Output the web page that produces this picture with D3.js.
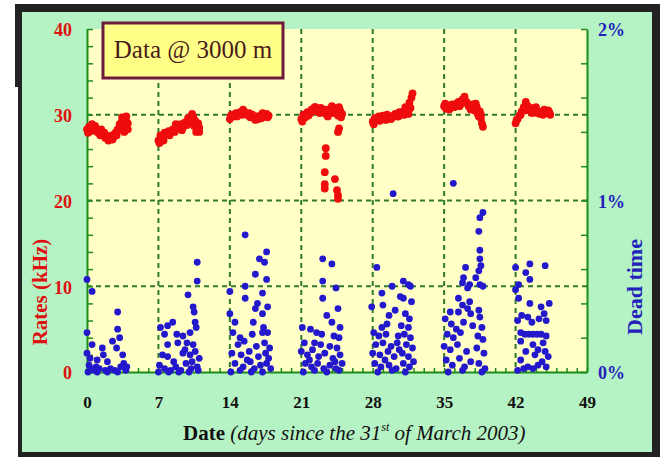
<!DOCTYPE html>
<head>
  <meta charset="utf-8">
  <script src="https://d3js.org/d3.v7.min.js"></script>
  <style>
    body { margin:0; background:#fff; }
    svg { display:block; }
    text { font-family: "Liberation Serif", "Times New Roman", serif; }
  </style>
</head>

<body>
	<script type='text/javascript'>
		// rates in kHz, one array per week: [day, rate]
		var ratesWeek1 = [[0,28.3],[0.2,28.6],[0.4,28.1],[0.6,28.4],[0.8,28.7],[1.0,28.0],[1.2,27.8],[1.4,28.3],[1.6,27.6],[1.8,27.3],[2.0,27.5],[2.2,27.2],[2.4,27.6],[2.6,27.4],[2.8,27.9],[3.0,28.3],[3.2,28.9],[3.3,28.5],[3.4,29.2],[3.5,28.2],[3.6,29.5],[3.7,28.8],[3.8,29.3],[3.9,28.4],[4.0,29.0],
			[0.1,27.9],[0.5,28.9],[0.9,28.2],[1.3,27.6],[1.7,27.9],[2.1,27.0],[2.5,27.1],[2.9,27.6],[3.45,29.7],[3.65,28.0],[3.85,29.8],[4.0,28.3]];
		var ratesWeek2 = [[7.0,27.0],[7.2,27.6],[7.4,27.3],[7.6,27.9],[7.8,27.7],[8.0,28.1],[8.2,27.9],[8.4,28.3],[8.6,28.0],[8.8,28.6],[9.0,28.4],[9.2,28.9],[9.4,28.5],[9.6,29.1],[9.8,28.8],[10.0,29.4],[10.2,29.0],[10.4,29.8],[10.5,28.7],[10.6,29.3],[10.8,28.3],[10.9,29.0],[11.0,28.5],
			[7.1,26.7],[7.5,27.0],[8.1,27.6],[8.7,28.9],[9.3,28.2],[9.9,29.6],[10.3,30.1],[10.7,28.0],[11.0,28.0]];
		var ratesWeek3 = [[14.0,29.5],[14.2,30.0],[14.4,29.8],[14.6,30.2],[14.8,30.1],[15.0,30.3],[15.2,30.0],[15.4,30.4],[15.6,30.1],[15.8,29.9],[16.0,29.7],[16.2,30.0],[16.4,29.6],[16.6,29.8],[16.8,29.5],[17.0,29.9],[17.2,30.2],[17.4,29.8],[17.6,30.1],[17.8,29.9],
			[14.1,29.9],[14.7,29.8],[15.3,30.6],[15.9,30.2],[16.5,29.4],[17.1,29.6],[17.7,29.7]];
		var ratesWeek4 = [[21.0,29.5],[21.2,30.0],[21.4,29.7],[21.6,30.3],[21.8,30.1],[22.0,30.6],[22.2,30.4],[22.4,30.9],[22.6,30.5],[22.8,30.2],[23.0,30.7],[23.2,30.4],[23.4,30.1],[23.6,29.8],[23.8,30.4],[24.0,31.0],[24.2,30.8],[24.4,30.3],[24.6,29.9],[24.8,30.5],[25.0,30.1],
			[21.1,29.2],[21.7,29.9],[22.3,30.9],[22.9,30.8],[23.5,30.6],[24.1,30.2],[24.7,30.9],[24.9,29.7],
			[24.6,28.0],[24.7,28.4],[23.4,26.1],[23.4,25.2],[23.3,23.3],[23.3,21.9],[23.3,21.4],[24.3,22.5],[24.5,21.2],[24.6,20.6],[24.6,20.2]];
		var ratesWeek5 = [[28.0,29.2],[28.2,29.6],[28.4,29.4],[28.6,29.8],[28.8,29.5],[29.0,29.9],[29.2,29.6],[29.4,30.0],[29.6,29.7],[29.8,29.5],[30.0,29.9],[30.2,30.1],[30.4,29.8],[30.6,30.3],[30.8,30.0],[31.0,30.4],[31.2,30.9],[31.4,30.5],[31.6,31.4],[31.8,32.0],[31.9,32.5],
			[28.1,28.9],[28.7,29.3],[29.3,29.4],[29.9,29.7],[30.5,29.8],[31.1,30.0],[31.5,30.1],[31.7,30.8]];
		var ratesWeek6 = [[35.0,31.0],[35.2,30.7],[35.4,31.1],[35.6,30.8],[35.8,31.2],[36.0,30.9],[36.2,31.3],[36.4,31.5],[36.6,31.2],[36.8,31.8],[37.0,32.1],[37.2,31.5],[37.4,31.0],[37.6,30.6],[37.8,31.2],[38.0,30.5],[38.2,30.9],[38.3,30.1],[38.5,30.4],[38.6,29.6],[38.7,29.0],[38.8,28.6],[38.6,30.0],
			[35.1,31.3],[35.5,30.6],[35.9,30.9],[36.5,31.0],[37.1,31.4],[37.7,30.9],[38.1,31.3],[38.4,29.8]];
		var ratesWeek7 = [[42.0,29.0],[42.2,29.5],[42.4,29.9],[42.6,30.4],[42.8,30.9],[43.0,31.5],[43.2,31.0],[43.4,30.5],[43.6,30.2],[43.8,30.7],[44.0,30.9],[44.2,30.4],[44.4,30.1],[44.6,30.3],[44.8,30.6],[45.0,30.2],[45.2,30.5],[45.4,30.0],
			[42.1,29.4],[42.5,30.0],[42.9,30.5],[43.5,30.8],[44.1,30.2],[44.7,30.0],[45.3,30.3]];

		// dead time in %, one array per week: [day, percent]
		var deadWeek1 = [[0.0,0.54],[0.5,0.47],[3.0,0.35],[3.0,0.25],[0.0,0.23],[2.5,0.18],[3.2,0.20],[0.5,0.16],[1.5,0.14],[1.6,0.10],[2.9,0.14],[0.0,0.11],[3.5,0.10],[1.0,0.07],[2.0,0.06],[0.2,0.04],[0.4,0.02],[0.7,0.01],[1.2,0.02],[1.8,0.01],[2.3,0.02],[2.7,0.01],[3.3,0.03],[3.8,0.01],[0.1,0.0],[1.0,0.0],[2.0,0.0],[3.0,0.0],[3.6,0.05],[0.3,0.08],[3.9,0.03],[0.9,0.03]];
		var deadWeek2 = [[10.8,0.64],[10.8,0.53],[9.9,0.45],[10.4,0.38],[10.5,0.35],[7.2,0.26],[7.9,0.27],[8.4,0.29],[10.6,0.29],[10.7,0.26],[7.6,0.22],[8.8,0.22],[9.4,0.21],[10.1,0.23],[7.9,0.16],[8.9,0.17],[9.8,0.17],[10.4,0.16],[7.4,0.10],[7.9,0.09],[9.4,0.11],[10.1,0.10],[10.6,0.12],[7.1,0.04],[7.6,0.02],[8.2,0.01],[8.7,0.03],[9.2,0.01],[9.7,0.05],[10.2,0.02],[10.8,0.03],[11.0,0.08],[7.0,0.0],[8.0,0.0],[9.0,0.0],[10.0,0.0],[10.9,0.01],[8.5,0.06],[9.6,0.13],[10.3,0.06]];
		var deadWeek3 = [[15.5,0.80],[17.6,0.70],[16.9,0.66],[17.4,0.64],[16.5,0.57],[15.5,0.50],[17.2,0.46],[17.6,0.54],[14.0,0.47],[15.5,0.43],[16.7,0.40],[17.7,0.38],[16.5,0.37],[17.2,0.34],[14.0,0.34],[14.5,0.29],[16.3,0.29],[17.3,0.26],[15.0,0.20],[16.2,0.22],[17.2,0.23],[17.7,0.23],[14.3,0.23],[14.8,0.16],[15.4,0.18],[16.6,0.15],[17.4,0.17],[17.9,0.14],[14.2,0.11],[15.1,0.10],[15.9,0.12],[16.8,0.09],[17.5,0.11],[14.5,0.05],[15.3,0.03],[16.0,0.06],[16.4,0.02],[17.0,0.04],[17.6,0.05],[18.0,0.02],[14.1,0.0],[15.0,0.01],[16.1,0.0],[17.2,0.0],[17.8,0.08],[15.7,0.07]];
		var deadWeek4 = [[23.1,0.66],[24.0,0.63],[23.1,0.53],[24.4,0.49],[23.1,0.43],[24.6,0.37],[23.5,0.33],[24.0,0.29],[24.8,0.26],[21.1,0.26],[21.9,0.25],[22.5,0.23],[23.0,0.22],[24.2,0.21],[24.7,0.20],[21.3,0.17],[22.3,0.17],[22.9,0.16],[23.8,0.15],[24.5,0.14],[21.0,0.12],[21.6,0.10],[22.1,0.13],[22.7,0.09],[23.3,0.11],[24.1,0.08],[24.8,0.10],[21.4,0.05],[22.0,0.03],[22.6,0.05],[23.2,0.02],[23.8,0.04],[24.4,0.02],[25.0,0.05],[21.2,0.0],[22.3,0.01],[23.5,0.0],[24.7,0.01],[21.8,0.07],[24.3,0.06]];
		var deadWeek5 = [[30.0,1.04],[28.4,0.61],[31.0,0.53],[31.7,0.50],[29.9,0.50],[31.5,0.51],[28.9,0.46],[30.7,0.44],[31.0,0.43],[31.8,0.41],[27.9,0.38],[29.0,0.39],[30.2,0.36],[29.6,0.33],[31.2,0.34],[31.6,0.31],[28.9,0.26],[29.4,0.28],[30.8,0.27],[31.5,0.26],[28.1,0.23],[28.6,0.21],[29.3,0.22],[30.5,0.21],[31.1,0.22],[31.7,0.20],[28.3,0.16],[29.0,0.17],[29.8,0.15],[30.4,0.17],[31.3,0.16],[31.9,0.14],[28.0,0.11],[28.7,0.10],[29.5,0.12],[30.1,0.09],[30.9,0.11],[31.5,0.09],[28.2,0.05],[28.8,0.03],[29.6,0.04],[30.3,0.02],[31.0,0.05],[31.6,0.03],[28.5,0.0],[29.9,0.01],[31.2,0.0],[32.0,0.06],[29.2,0.07],[30.6,0.13]];
		var deadWeek6 = [[35.9,1.10],[38.8,0.93],[38.5,0.90],[38.4,0.82],[38.5,0.71],[38.5,0.66],[38.6,0.62],[38.4,0.59],[37.1,0.61],[36.9,0.55],[38.1,0.55],[38.5,0.51],[38.8,0.50],[36.8,0.52],[37.5,0.51],[37.3,0.49],[36.4,0.43],[36.8,0.39],[37.5,0.41],[35.6,0.35],[36.4,0.35],[37.3,0.37],[37.6,0.34],[38.4,0.36],[38.5,0.32],[35.1,0.31],[35.7,0.28],[36.2,0.25],[36.9,0.29],[37.8,0.27],[38.7,0.26],[35.3,0.22],[35.9,0.20],[36.6,0.23],[38.3,0.21],[38.8,0.19],[35.0,0.15],[35.6,0.13],[36.3,0.16],[37.2,0.12],[38.2,0.14],[38.9,0.11],[35.2,0.07],[35.8,0.04],[36.5,0.08],[37.0,0.03],[37.6,0.06],[38.4,0.05],[39.0,0.02],[35.4,0.0],[36.8,0.01],[38.7,0.0]];
		var deadWeek7 = [[42.0,0.61],[43.4,0.63],[44.9,0.62],[43.0,0.58],[43.4,0.54],[42.3,0.51],[42.0,0.48],[42.3,0.43],[43.4,0.40],[45.3,0.40],[44.5,0.38],[44.8,0.34],[45.0,0.30],[42.6,0.33],[43.2,0.32],[43.6,0.29],[44.3,0.31],[42.2,0.30],[42.5,0.23],[42.9,0.22],[43.3,0.22],[43.7,0.22],[44.1,0.22],[44.5,0.22],[45.0,0.21],[42.5,0.18],[43.7,0.16],[44.7,0.17],[44.2,0.13],[44.9,0.12],[43.9,0.10],[43.0,0.12],[42.5,0.07],[43.2,0.03],[43.7,0.02],[44.2,0.04],[44.6,0.06],[45.2,0.09],[42.2,0.01],[42.8,0.02],[45.0,0.03]];

		// tick labels
		var dayTicks = [0, 7, 14, 21, 28, 35, 42, 49];
		var rateTicks = [0, 10, 20, 30, 40];
		var deadTicks = [0, 1, 2];

		var rates = [].concat(ratesWeek1, ratesWeek2, ratesWeek3, ratesWeek4, ratesWeek5, ratesWeek6, ratesWeek7);
		var dead = [].concat(deadWeek1, deadWeek2, deadWeek3, deadWeek4, deadWeek5, deadWeek6, deadWeek7);

		// plot box (window.top is reserved, so no bare "top")
		var plotL = 87, plotR = 587, plotT = 29, plotB = 372;

		var svg = d3.select('body').append('svg')
			.attr('width', 660)
			.attr('height', 457);

		// dark frame and green background
		svg.append('rect').attr('x', 18).attr('y', 4).attr('width', 642).attr('height', 453).attr('fill', '#222');
		svg.append('rect').attr('x', 15).attr('y', 4).attr('width', 8).attr('height', 83).attr('fill', '#222');
		svg.append('rect').attr('x', 22).attr('y', 12).attr('width', 630).attr('height', 440).attr('fill', '#b6f3c4');

		// plot area
		svg.append('rect')
			.attr('x', plotL).attr('y', plotT)
			.attr('width', plotR - plotL).attr('height', plotB - plotT)
			.attr('fill', '#ffffc6');

		// SCALES
		var xScale = d3.scaleLinear().domain([0, 49]).range([plotL, plotR]);
		var rateScale = d3.scaleLinear().domain([0, 40]).range([plotB, plotT]);
		var deadScale = d3.scaleLinear().domain([0, 2]).range([plotB, plotT]);

		// dashed grid
		var grid = svg.append('g')
			.attr('stroke', '#2d7a2d')
			.attr('stroke-width', 2)
			.attr('stroke-dasharray', '5,4');
		grid.selectAll('line.v')
			.data(dayTicks.slice(1, -1)).enter().append('line')
			.attr('class', 'v')
			.attr('x1', d => xScale(d)).attr('x2', d => xScale(d))
			.attr('y1', plotT).attr('y2', plotB);
		grid.selectAll('line.h')
			.data(rateTicks.slice(1, -1)).enter().append('line')
			.attr('class', 'h')
			.attr('x1', plotL).attr('x2', plotR)
			.attr('y1', d => rateScale(d)).attr('y2', d => rateScale(d));

		// AXES: minor ticks pointing inward, lines in green
		var axisColour = '#1c8c1c';
		var axisL = svg.append('g')
			.attr('transform', 'translate(' + plotL + ',0)')
			.call(d3.axisLeft(rateScale).tickValues(d3.range(0, 41, 2)).tickSizeInner(-6).tickSizeOuter(0).tickFormat(''));
		var axisR = svg.append('g')
			.attr('transform', 'translate(' + plotR + ',0)')
			.call(d3.axisRight(deadScale).tickValues(d3.range(0, 2.01, 0.2)).tickSizeInner(-6).tickSizeOuter(0).tickFormat(''));
		var axisB = svg.append('g')
			.attr('transform', 'translate(0,' + plotB + ')')
			.call(d3.axisBottom(xScale).tickValues(d3.range(0, 50, 1)).tickSizeInner(-4).tickSizeOuter(0).tickFormat(''));
		[axisL, axisR, axisB].forEach(function(a) {
			a.select('.domain').attr('stroke', axisColour).attr('stroke-width', 2);
			a.selectAll('.tick line').attr('stroke', axisColour).attr('stroke-width', 1.5);
		});

		// tick labels
		var labL = svg.append('g')
			.attr('transform', 'translate(' + plotL + ',0)')
			.call(d3.axisLeft(rateScale).tickValues(rateTicks).tickSize(0).tickPadding(15));
		var labR = svg.append('g')
			.attr('transform', 'translate(' + plotR + ',0)')
			.call(d3.axisRight(deadScale).tickValues(deadTicks).tickSize(0).tickPadding(11).tickFormat(d => d + '%'));
		var labB = svg.append('g')
			.attr('transform', 'translate(0,' + plotB + ')')
			.call(d3.axisBottom(xScale).tickValues(dayTicks).tickSize(0).tickPadding(24));
		[labL, labR, labB].forEach(function(a) {
			a.select('.domain').remove();
			a.selectAll('text')
				.attr('font-family', '"Liberation Serif", "Times New Roman", serif')
				.attr('font-weight', 'bold')
				.attr('font-size', 18);
		});
		labL.selectAll('text').attr('fill', '#dd1111').attr('dy', '0.38em');
		labR.selectAll('text').attr('fill', '#2222bb').attr('dy', '0.38em');
		labB.selectAll('text').attr('fill', '#111').attr('font-size', 17);

		// data points: blue dead time first, red rates on top
		svg.append('g').selectAll('circle')
			.data(dead).enter().append('circle')
			.attr('cx', d => xScale(d[0]))
			.attr('cy', d => deadScale(d[1]))
			.attr('r', 3.4)
			.attr('fill', '#2418cc');

		svg.append('g').selectAll('circle')
			.data(rates).enter().append('circle')
			.attr('cx', d => xScale(d[0]))
			.attr('cy', d => rateScale(d[1]))
			.attr('r', 3.9)
			.attr('fill', '#ee0c0c');

		// axis titles
		svg.append('text')
			.attr('transform', 'translate(47,292) rotate(-90)')
			.attr('text-anchor', 'middle')
			.attr('font-size', 21)
			.attr('font-weight', 'bold')
			.attr('fill', '#dd1111')
			.text('Rates (kHz)');

		svg.append('text')
			.attr('transform', 'translate(642,287) rotate(-90)')
			.attr('text-anchor', 'middle')
			.attr('font-size', 22)
			.attr('font-weight', 'bold')
			.attr('fill', '#2222bb')
			.text('Dead time');

		var xTitle = svg.append('text')
			.attr('x', 183).attr('y', 440)
			.attr('font-size', 21)
			.attr('fill', '#111');
		xTitle.append('tspan').attr('font-weight', 'bold').text('Date ');
		xTitle.append('tspan').attr('font-style', 'italic').text('(days since the 31');
		xTitle.append('tspan').attr('font-style', 'italic').attr('font-size', 12).attr('dy', -9).text('st');
		xTitle.append('tspan').attr('font-style', 'italic').attr('dy', 9).text(' of March 2003)');

		// "Data @ 3000 m" box
		svg.append('rect')
			.attr('x', 103).attr('y', 23)
			.attr('width', 180).attr('height', 55)
			.attr('fill', '#ffff88')
			.attr('stroke', '#6e1a3c')
			.attr('stroke-width', 3);
		svg.append('text')
			.attr('x', 193).attr('y', 58)
			.attr('text-anchor', 'middle')
			.attr('font-size', 25)
			.attr('fill', '#4a1a1a')
			.text('Data @ 3000 m');
	</script>
</body>
